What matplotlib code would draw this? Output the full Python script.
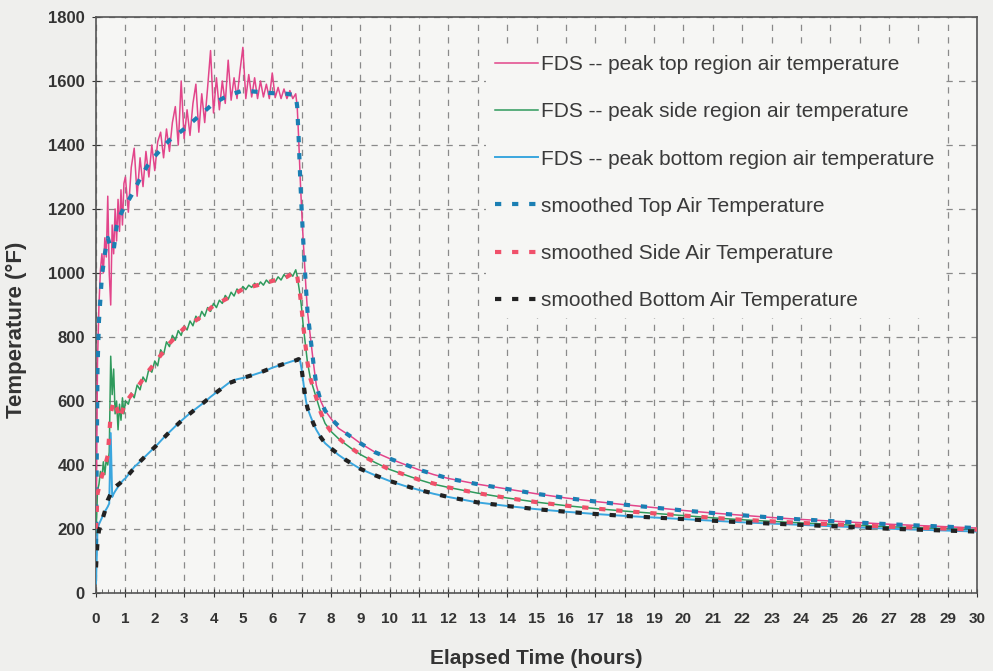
import matplotlib.pyplot as plt
import numpy as np

# sample times for the raw FDS records (hours)
t_early = np.round(np.arange(0, 20) * 0.05, 2)          # 0.00 .. 0.95
t_mid = np.round(1.0 + np.arange(0, 59) * 0.1, 2)        # 1.0 .. 6.8
t_decay = [6.85, 6.9, 6.95, 7.0, 7.05, 7.1, 7.15, 7.2, 7.3, 7.4, 7.5, 7.65, 7.8,
           8.0, 8.25, 8.5, 8.75, 9, 9.5, 10, 10.5, 11, 11.5, 12, 13, 14, 15, 16,
           17, 18, 19, 20, 21, 22, 23, 24, 25, 26, 27, 28, 29, 30]
t_raw = np.concatenate([t_early, t_mid, t_decay])

top_raw = [
    # 0.00 - 0.95
    150, 720, 900, 1010, 1060, 1000, 1110, 1050, 1240, 1000,
    900, 1150, 1060, 1200, 1100, 1230, 1130, 1260, 1150, 1280,
    # 1.0 - 6.8
    1300, 1190, 1330, 1390, 1240, 1360, 1270, 1380, 1300, 1400,
    1320, 1410, 1440, 1360, 1450, 1380, 1470, 1520, 1400, 1600,
    1420, 1510, 1430, 1530, 1590, 1440, 1560, 1470, 1580, 1695,
    1500, 1610, 1510, 1600, 1530, 1665, 1540, 1610, 1545, 1630,
    1705, 1545, 1620, 1550, 1610, 1545, 1600, 1550, 1590, 1545,
    1625, 1548, 1580, 1545, 1575, 1545, 1570, 1545, 1560,
    # decay
    1520, 1420, 1300, 1200, 1110, 1030, 950, 880, 800, 720, 650, 600, 570,
    545, 515, 500, 485, 468, 440, 420, 402, 385, 370, 358, 340, 325, 310, 297,
    286, 276, 267, 258, 250, 243, 236, 230, 225, 220, 215, 211, 207, 203]

side_raw = [
    180, 320, 340, 380, 360, 410, 370, 420, 400, 440,
    740, 620, 700, 560, 600, 510, 590, 540, 610, 560,
    600, 590, 625, 610, 650, 635, 675, 660, 700, 690,
    725, 710, 760, 745, 785, 770, 805, 790, 820, 805,
    835, 822, 850, 835, 865, 852, 880, 865, 892, 880,
    905, 892, 915, 905, 930, 918, 940, 928, 950, 940,
    958, 948, 962, 955, 968, 958, 972, 962, 978, 968,
    982, 972, 988, 978, 995, 985, 1000, 990, 1010,
    990, 960, 930, 890, 840, 800, 760, 720, 670, 640, 610, 565, 530,
    505, 483, 465, 448, 433, 408, 386, 370, 354, 340, 330, 312, 297, 284, 273,
    264, 256, 249, 242, 235, 229, 224, 219, 215, 211, 207, 204, 201, 198]

bottom_raw = [
    30, 200, 215, 225, 235, 245, 255, 262, 270, 280,
    500, 300, 310, 318, 325, 332, 338, 344, 350, 355,
    358, 370, 382, 394, 402, 411, 420, 429, 438, 447,
    456, 465, 475, 485, 494, 503, 512, 521, 530, 538,
    546, 554, 562, 569, 576, 583, 590, 597, 605, 613,
    620, 627, 634, 641, 648, 655, 661, 665, 668, 670,
    672, 674, 677, 680, 683, 686, 689, 692, 696, 700,
    704, 707, 710, 713, 716, 719, 722, 725, 727,
    729, 731, 725, 700, 665, 630, 600, 578, 553, 530, 510, 487, 468,
    452, 432, 416, 402, 388, 368, 350, 335, 322, 310, 300, 283, 272, 262, 254,
    247, 241, 236, 231, 226, 221, 217, 213, 209, 205, 201, 198, 195, 192]

# smoothed curves
t_smooth = [0, 0.05, 0.1, 0.2, 0.3, 0.4, 0.5, 0.6, 0.7, 0.8, 0.9, 1.0, 1.25, 1.5,
            1.75, 2.0, 2.5, 3.0, 3.5, 4.0, 4.5, 5.0, 5.5, 6.0, 6.5, 6.8, 6.85, 6.9,
            6.95, 7.0, 7.05, 7.1, 7.15, 7.2, 7.3, 7.4, 7.5, 7.65, 7.8, 8.0, 8.5, 9,
            9.5, 10, 11, 12, 13, 14, 15, 16, 17, 18, 19, 20, 21, 22, 23, 24, 25,
            26, 27, 28, 29, 30]
top_smooth = [150, 700, 850, 990, 1060, 1110, 1080, 1070, 1145, 1175, 1195, 1210,
              1250, 1295, 1335, 1365, 1415, 1450, 1490, 1530, 1555, 1570, 1566,
              1562, 1560, 1555, 1520, 1420, 1300, 1200, 1110, 1030, 950, 880, 800,
              720, 650, 600, 570, 545, 500, 468, 440, 420, 385, 358, 340, 325, 310,
              297, 286, 276, 267, 258, 250, 243, 236, 230, 225, 220, 215, 211, 207, 203]
side_smooth = [200, 310, 330, 365, 395, 430, 560, 600, 580, 545, 570, 595, 625, 655,
               690, 718, 780, 828, 858, 898, 922, 950, 962, 975, 988, 1005, 990, 960,
               930, 890, 840, 800, 760, 720, 670, 640, 610, 565, 530, 505, 465, 433,
               408, 386, 354, 330, 312, 297, 284, 273, 264, 256, 249, 242, 235, 229,
               224, 219, 215, 211, 207, 204, 201, 198]
bottom_smooth = [80, 160, 195, 225, 255, 290, 310, 327, 335, 342, 350, 358, 385, 411,
                 434, 456, 503, 546, 583, 620, 655, 672, 686, 704, 719, 727, 729, 731,
                 725, 700, 665, 630, 600, 578, 553, 530, 510, 487, 468, 452, 416, 388,
                 368, 350, 322, 300, 283, 272, 262, 254, 247, 241, 236, 231, 226, 221,
                 217, 213, 209, 205, 201, 198, 195, 192]

plt.rcParams['font.family'] = ['Liberation Sans', 'DejaVu Sans']

fig = plt.figure(figsize=(9.93, 6.71), dpi=100, facecolor='#efefed')
ax = fig.add_axes([0.0967, 0.1162, 0.8873, 0.8585])
ax.set_facecolor('#f6f6f4')

ax.plot(t_raw, top_raw, color='#e2458a', lw=1.1, label='FDS -- peak top region air temperature', zorder=3)
ax.plot(t_raw, side_raw, color='#2f9a5c', lw=1.1, label='FDS -- peak side region air temperature', zorder=3)
ax.plot(t_raw, bottom_raw, color='#3aa6de', lw=1.4, label='FDS -- peak bottom region air temperature', zorder=3)

dash = (0, (1.5, 2.6))
ax.plot(t_smooth, top_smooth, color='#1b7fb3', lw=3.0, ls=dash, label='smoothed Top Air Temperature', zorder=4)
ax.plot(t_smooth, side_smooth, color='#f0506a', lw=3.0, ls=dash, label='smoothed Side Air Temperature', zorder=4)
ax.plot(t_smooth, bottom_smooth, color='#222222', lw=3.0, ls=dash, label='smoothed Bottom Air Temperature', zorder=4)

ax.set_xlim(0, 30)
ax.set_ylim(0, 1800)
ax.set_xticks(range(0, 31))
ax.set_yticks(range(0, 1801, 200))
ax.set_xticks(np.arange(0, 30.01, 0.2), minor=True)
ax.grid(True, which='major', ls=(0, (5, 5)), color='#8a8a8a', lw=0.9)
ax.tick_params(axis='x', which='major', direction='inout', length=6, labelsize=11, pad=11, colors='#333333')
ax.tick_params(axis='x', which='minor', direction='in', length=3, color='#555555')
ax.tick_params(axis='y', direction='inout', length=6, labelsize=12, pad=5, colors='#333333')
for lab in ax.get_xticklabels() + ax.get_yticklabels():
    lab.set_fontweight('bold')
for s in ax.spines.values():
    s.set_color('#555555')
    s.set_linewidth(1.2)

ax.set_xlabel('Elapsed Time (hours)', fontsize=15, fontweight='bold', color='#333333', labelpad=16)
ax.set_ylabel('Temperature (°F)', fontsize=16, fontweight='bold', color='#333333')
ax.yaxis.set_label_coords(-0.078, 0.457)

leg = ax.legend(loc='upper left', bbox_to_anchor=(0.431, 0.966), fontsize=15,
                labelspacing=1.35, handlelength=2.1, handletextpad=0.15,
                frameon=True, facecolor='#f6f6f4', edgecolor='none', framealpha=1,
                borderpad=0.4)
for txt in leg.get_texts():
    txt.set_color('#3a3a3a')

fig.savefig('out.png', dpi=100, facecolor=fig.get_facecolor())
